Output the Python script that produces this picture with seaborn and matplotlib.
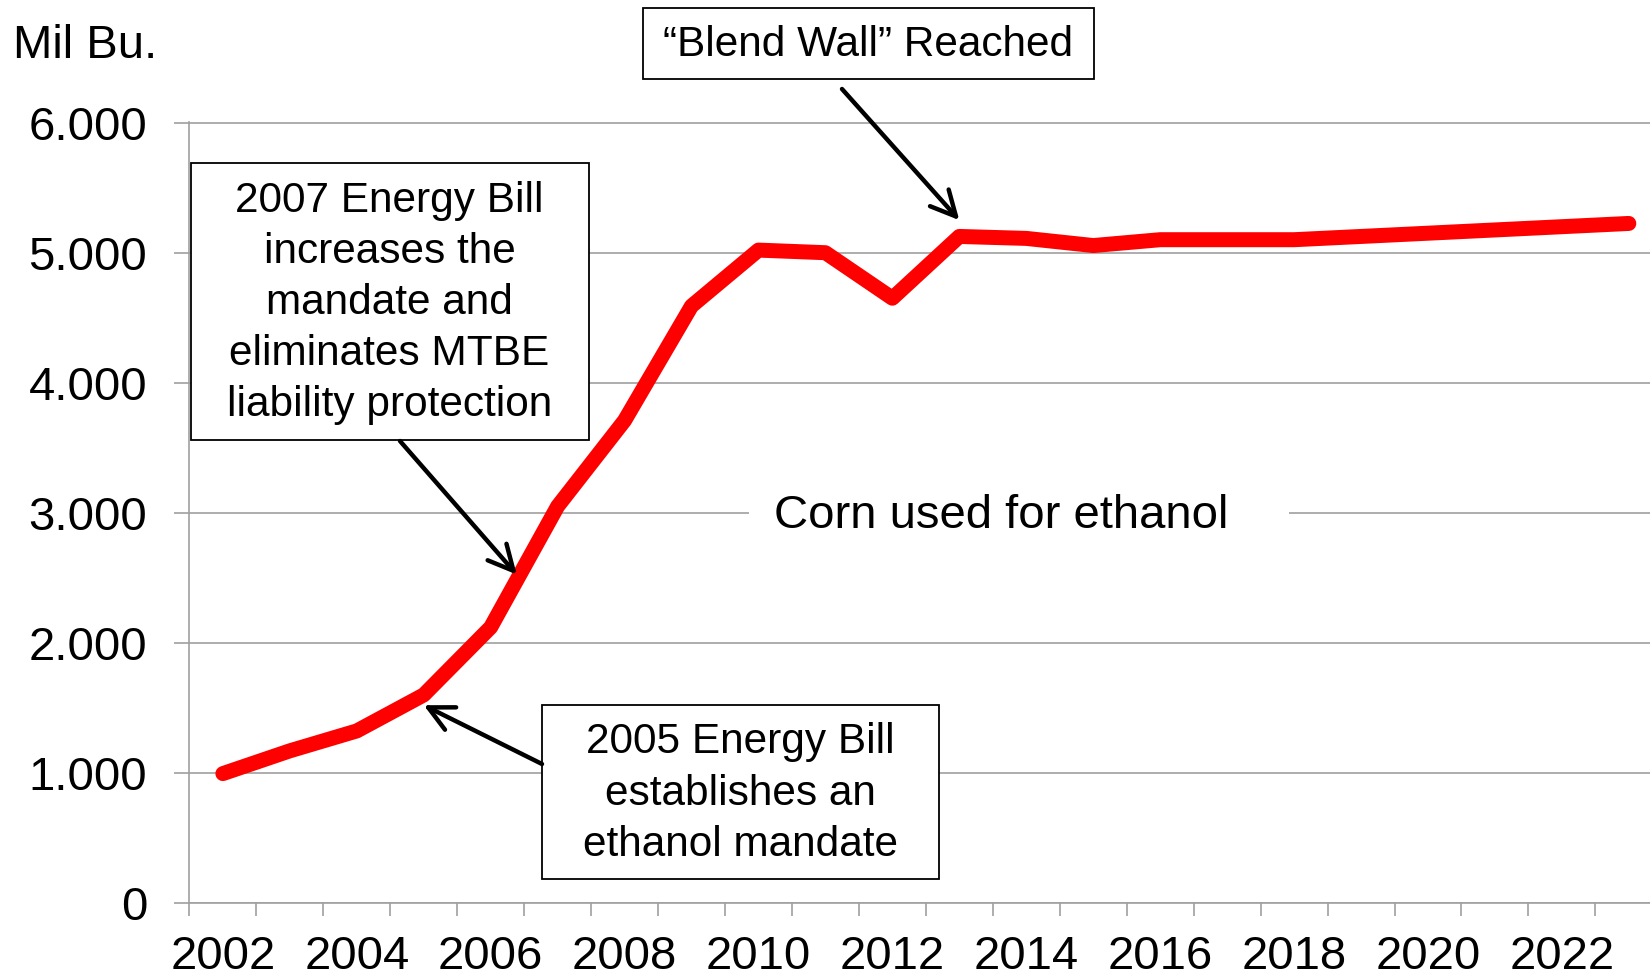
import matplotlib.pyplot as plt
from matplotlib.patches import Rectangle
import numpy as np
import pandas as pd
import seaborn as sns

# Data
years = list(range(2002, 2024))
corn_for_ethanol = [995, 1170, 1323, 1600, 2120, 3050, 3710, 4590, 5020, 5000, 4650,
                    5125, 5110, 5055, 5100, 5100, 5100, 5125, 5150, 5175, 5200, 5225]
y_ticks = [0, 1000, 2000, 3000, 4000, 5000, 6000]
y_tick_labels = ['0', '1.000', '2.000', '3.000', '4.000', '5.000', '6.000']
x_label_years = list(range(2002, 2023, 2))

df = pd.DataFrame({'year': years, 'corn': corn_for_ethanol})
df['pos'] = np.arange(len(df))

sns.set_style('white')
plt.rcParams['font.family'] = ['Liberation Sans', 'DejaVu Sans']
plt.rcParams['text.color'] = 'black'
plt.rcParams['xtick.labelcolor'] = 'black'
plt.rcParams['ytick.labelcolor'] = 'black'

W, H = 1650, 980
fig = plt.figure(figsize=(W / 100, H / 100), dpi=100)
ax = fig.add_axes([189.4 / W, 77 / H, 1472.9 / W, 781 / H])

grey = '#a0a0a0'

sns.lineplot(data=df, x='pos', y='corn', color='#ff0000', lw=10.8, ax=ax,
             solid_capstyle='round', solid_joinstyle='round', zorder=3)

ax.set_xlim(-0.5, len(df) - 0.5)
ax.set_ylim(0, 6005)
ax.set_xlabel('')
ax.set_ylabel('')

# y axis
ax.set_yticks(y_ticks)
ax.set_yticklabels(y_tick_labels)
ax.yaxis.grid(True, color=grey, lw=1.2)
ax.set_axisbelow(True)
ax.tick_params(axis='y', direction='out', length=10.8, width=1.2, color=grey,
               labelsize=34, pad=19.7, left=True, labelcolor='black')

# x axis: labels at category centres, tick marks at category borders
pos_of = dict(zip(df['year'], df['pos']))
ax.set_xticks([pos_of[y] for y in x_label_years])
ax.set_xticklabels([str(y) for y in x_label_years])
ax.set_xticks(np.arange(-0.5, len(df), 1), minor=True)
ax.tick_params(axis='x', which='major', length=0, labelsize=34, pad=23, labelcolor='black')
ax.tick_params(axis='x', which='minor', direction='out', length=9.6, width=1.2,
               color=grey, bottom=True)

for side in ['top', 'right']:
    ax.spines[side].set_visible(False)
for side in ['left', 'bottom']:
    ax.spines[side].set_color(grey)
    ax.spines[side].set_linewidth(1.2)

fig.text(13 / W, 1 - 57.8 / H, 'Mil Bu.', fontsize=34, ha='left', va='baseline', color='black')

# series label with white background
ax.add_artist(Rectangle((749 / W, 1 - 535 / H), 540 / W, 48 / H, transform=fig.transFigure,
                        facecolor='white', edgecolor='none', clip_on=False, zorder=1.5))
ax.text(1001 / W, 1 - 528 / H, 'Corn used for ethanol', transform=fig.transFigure,
        fontsize=34, ha='center', va='baseline', zorder=4, color='black')


def note_box(x0, y0, x1, y1, text, cy, spacing=1.36):
    ax.add_artist(Rectangle((x0 / W, 1 - y1 / H), (x1 - x0) / W, (y1 - y0) / H,
                            transform=fig.transFigure, facecolor='white', edgecolor='black',
                            lw=1.3, clip_on=False, zorder=4))
    ax.text((x0 + x1) / 2 / W, 1 - cy / H, text, transform=fig.transFigure, fontsize=30.5,
            ha='center', va='center', multialignment='center', linespacing=spacing,
            zorder=5, color='black')


def note_arrow(start, tip):
    ax.annotate('', xy=tip, xycoords='data',
                xytext=(start[0] / W, 1 - start[1] / H), textcoords='figure fraction',
                arrowprops=dict(arrowstyle='->,head_length=0.9,head_width=0.45',
                                mutation_scale=20, lw=3.2, color='black',
                                shrinkA=0, shrinkB=0),
                annotation_clip=False, zorder=6)


note_box(642.5, 8.3, 1093.5, 79.3, '\u201cBlend Wall\u201d Reached', 45)
note_arrow((842, 89), (11, 5250))

note_box(190.5, 163, 588.5, 440,
         '2007 Energy Bill\nincreases the\nmandate and\neliminates MTBE\nliability protection', 303)
note_arrow((400, 441), (4.39, 2525))

note_box(542, 705, 938.6, 879,
         '2005 Energy Bill\nestablishes an\nethanol mandate', 793.5)
note_arrow((542, 764), (3.0, 1521))

fig.savefig('out.png', dpi=100)
